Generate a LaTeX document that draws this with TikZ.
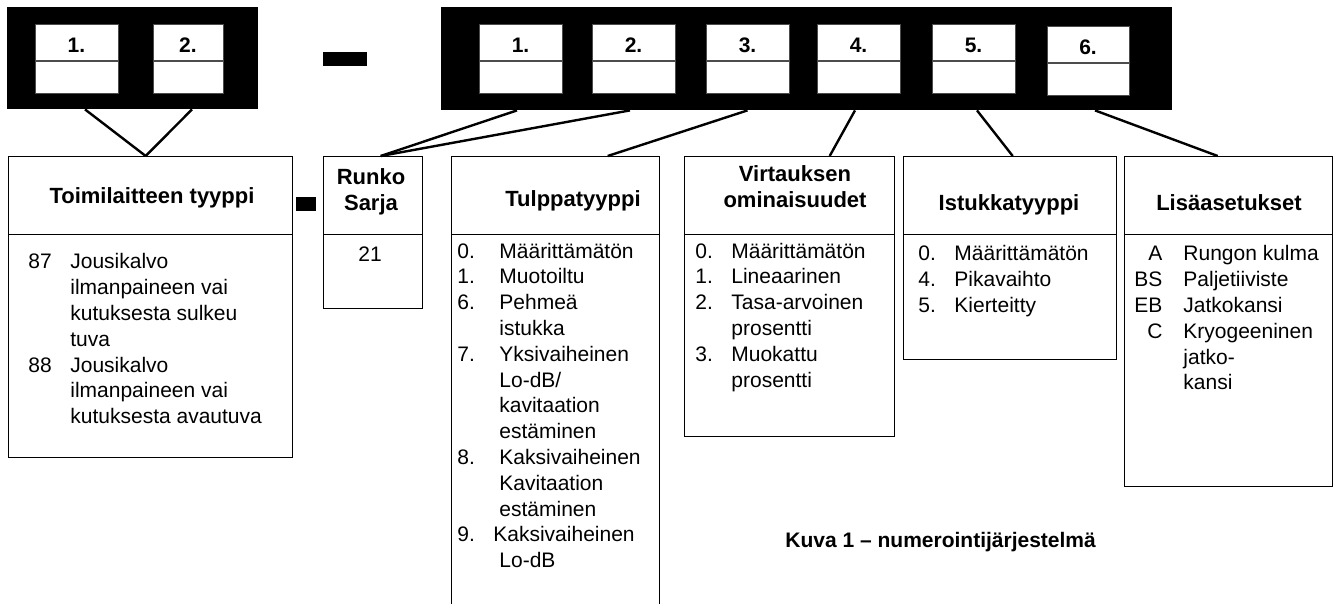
\documentclass[tikz,border=0pt]{standalone}
\usepackage{fontspec}
\setmainfont{Liberation Sans}
\usetikzlibrary{calc}
\newcommand{\bodysize}{\fontsize{10.5}{12.9}\selectfont}
\newcommand{\headsize}{\fontsize{11}{12.9}\selectfont\bfseries}

\begin{document}
\begin{tikzpicture}[x=0.5pt, y=-0.5pt,
  frame/.style={fill=black, draw=none, inner sep=0pt},
  cell/.style={draw=black!70, line width=0.5pt, fill=white, inner xsep=0pt, inner ysep=0pt,
      minimum width=41.5pt, text height=14pt, text depth=20.5pt, font=\fontsize{10.5}{12}\selectfont\bfseries,
      path picture={\draw[line width=0.6pt] ([yshift=-18pt]path picture bounding box.north west)
        -- ([yshift=-18pt]path picture bounding box.north east);}},
  catbox/.style={draw, line width=0.7pt, inner sep=0pt, anchor=north west,
      path picture={\draw[line width=0.7pt] ([yshift=-39pt]path picture bounding box.north west)
        -- ([yshift=-39pt]path picture bounding box.north east);}},
  head/.style={font=\headsize, anchor=base, inner sep=0pt},
  body/.style={font=\bodysize, anchor=base west, inner sep=0pt},
  link/.style={line width=1.2pt}]
\useasboundingbox (0,0) rectangle (1338,604);

% Code frames
\node[frame, minimum width=125.5pt, minimum height=51pt] (codeL) at (132.5,58) {};
\node[frame, minimum width=365.5pt, minimum height=51.5pt] (codeR) at (806.5,58.5) {};
\node[frame, minimum width=22pt, minimum height=7pt] (dashA) at (345,59) {};
\node[frame, minimum width=10pt, minimum height=7pt] (dashB) at (306,204) {};

\node[cell] (l1) at (76.5,59.5) {1.};
\node[cell, minimum width=35pt] (l2) at (188,59.5) {2.};

\node[cell] (r1) at (520.5,59.5) {1.};
\node[cell] (r2) at (633.5,59.5) {2.};
\node[cell] (r3) at (747.5,59.5) {3.};
\node[cell] (r4) at (858.5,59.5) {4.};
\node[cell] (r5) at (973.5,59.5) {5.};
\node[cell, minimum width=41pt] (r6) at (1088,61.5) {6.};

% Category boxes
\node[catbox, minimum width=142pt, minimum height=150.5pt] (toimi) at (8,156) {};
\node[catbox, minimum width=49.5pt, minimum height=76pt] (runko) at (323,156) {};
\node[catbox, minimum width=104pt, minimum height=227pt] (tulppa) at (451,156) {};
\node[catbox, minimum width=105pt, minimum height=140pt] (virtaus) at (684,156) {};
\node[catbox, minimum width=106.5pt, minimum height=101.5pt] (istukka) at (903,156) {};
\node[catbox, minimum width=104pt, minimum height=165pt] (lisa) at (1124,156) {};

% Headers
\node[head] (toimiHead) at (152,204) {Toimilaitteen tyyppi};
\node[head] (runkoHead) at (371,185) {\begin{tabular}[t]{@{}c@{}}Runko\\Sarja\end{tabular}};
\node[head] (tulppaHead) at (573,207) {Tulppatyyppi};
\node[head] (virtausHead) at (795,182) {\begin{tabular}[t]{@{}c@{}}Virtauksen\\ominaisuudet\end{tabular}};
\node[head] (istukkaHead) at (1009,211) {Istukkatyyppi};
\node[head] (lisaHead) at (1229,211) {Lisäasetukset};

% Lists
\node[body] (toimiTxt) at (28,269) {\begin{tabular}[t]{@{}p{21pt}@{}l@{}}
87 & Jousikalvo\\
   & ilmanpaineen vai\\
   & kutuksesta sulkeu\\
   & tuva\\
88 & Jousikalvo\\
   & ilmanpaineen vai\\
   & kutuksesta avautuva
\end{tabular}};

\node[font=\bodysize, anchor=base, inner sep=0pt] (runkoTxt) at (370,262) {21};

\node[body] (tulppaTxt) at (457,258) {\begin{tabular}[t]{@{}p{21pt}@{}l@{}}
0. & Määrittämätön\\
1. & Muotoiltu\\
6. & Pehmeä\\
   & istukka\\
7. & Yksivaiheinen\\
   & Lo-dB/\\
   & kavitaation\\
   & estäminen\\
8. & Kaksivaiheinen\\
   & Kavitaation\\
   & estäminen\\
9. & \hspace*{-3pt}Kaksivaiheinen\\
   & Lo-dB
\end{tabular}};

\node[body] (virtausTxt) at (695,258) {\begin{tabular}[t]{@{}p{18pt}@{}l@{}}
0. & Määrittämätön\\
1. & Lineaarinen\\
2. & Tasa-arvoinen\\
   & prosentti\\
3. & Muokattu\\
   & prosentti
\end{tabular}};

\node[body] (istukkaTxt) at (918,261) {\begin{tabular}[t]{@{}p{18pt}@{}l@{}}
0. & Määrittämätön\\
4. & Pikavaihto\\
5. & Kierteitty
\end{tabular}};

\node[body] (lisaTxt) at (1134,261) {\begin{tabular}[t]{@{}r@{\hspace{10.5pt}}l@{}}
A  & Rungon kulma\\
BS & Paljetiiviste\\
EB & Jatkokansi\\
C  & Kryogeeninen\\
   & jatko-\\
   & kansi
\end{tabular}};

% Connectors
\draw[link] ($(l1 |- codeL.south)+(8.5,0)$) -- ($(toimi.north)+(-5,0)$);
\draw[link] ($(l2 |- codeL.south)+(4,0)$) -- ($(toimi.north)+(-5,0)$);
\draw[link] ($(r1 |- codeR.south)+(-3.5,0)$) -- ($(runko.north)+(7.5,0)$);
\draw[link] ($(r2 |- codeR.south)+(-3.5,0)$) -- ($(runko.north)+(7.5,0)$);
\draw[link] (r3 |- codeR.south) -- ($(tulppa.north)+(52,0)$);
\draw[link] ($(r4 |- codeR.south)+(-3.5,0)$) -- ($(virtaus.north)+(40,0)$);
\draw[link] ($(r5 |- codeR.south)+(3.5,0)$) -- ($(istukka.north)+(2.5,0)$);
\draw[link] ($(r6 |- codeR.south)+(7,0)$) -- ($(lisa.north)+(-11,0)$);

% Caption
\node[font=\bodysize\bfseries, anchor=base west, inner sep=0pt] (caption) at (785,547) {Kuva 1 – numerointijärjestelmä};

\end{tikzpicture}
\end{document}
